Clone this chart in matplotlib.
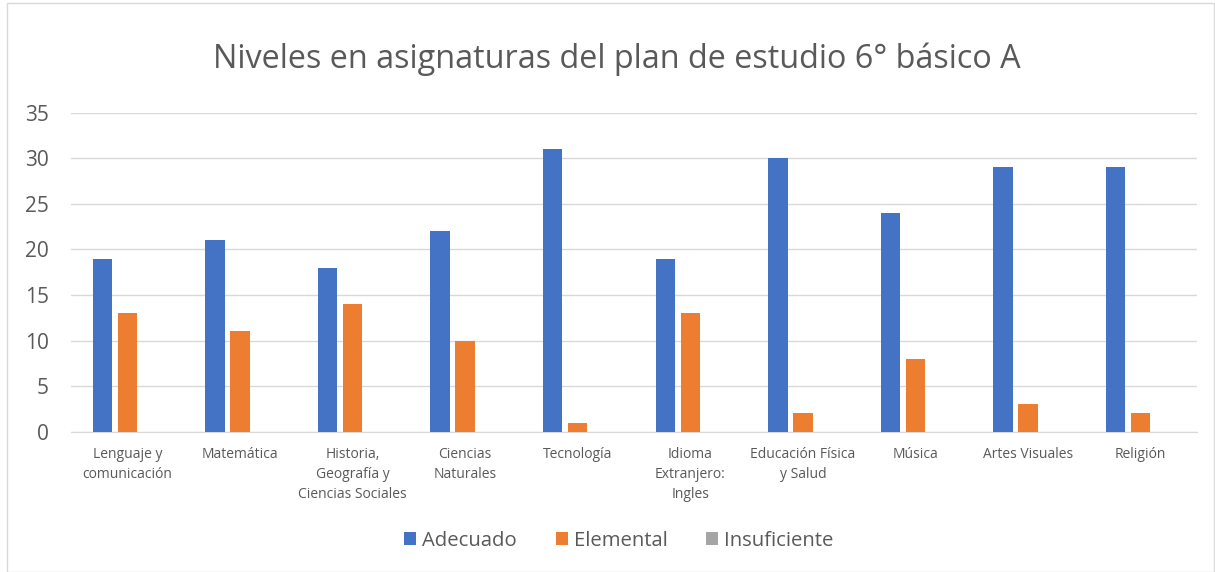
import matplotlib
matplotlib.use("Agg")
import matplotlib.pyplot as plt
import numpy as np
from matplotlib.patches import Rectangle

categories = ["Lenguaje y\ncomunicación", "Matemática", "Historia,\nGeografía y\nCiencias Sociales",
              "Ciencias\nNaturales", "Tecnología", "Idioma\nExtranjero:\nIngles",
              "Educación Física\ny Salud", "Música", "Artes Visuales", "Religión"]
adecuado = [19, 21, 18, 22, 31, 19, 30, 24, 29, 29]
elemental = [13, 11, 14, 10, 1, 13, 2, 8, 3, 2]
insuficiente = [0, 0, 0, 0, 0, 0, 0, 0, 0, 0]
series_names = ["Adecuado", "Elemental", "Insuficiente"]
colors = ["#4472C4", "#ED7D31", "#A5A5A5"]
y_ticks = [0, 5, 10, 15, 20, 25, 30, 35]
title = "Niveles en asignaturas del plan de estudio 6° básico A"

FONT = ["Open Sans", "DejaVu Sans"]
plt.rcParams['font.family'] = FONT
TXT = "#595959"

W, H = 1215, 572
fig = plt.figure(figsize=(W/100, H/100), dpi=100)
fig.patches.append(Rectangle((7/W, 0), (W-8)/W, 1 - 3/H, transform=fig.transFigure,
                             fill=False, edgecolor="#D9D9D9", linewidth=1))

left, right = 71, 1197
top, bottom = 112.7, 431.7
ax = fig.add_axes([left/W, 1 - bottom/H, (right-left)/W, (bottom-top)/H])

x = np.arange(len(categories))
bw = 0.173
offs = [-0.222, 0, 0.222]
for vals, name, c, o in zip([adecuado, elemental, insuficiente], series_names, colors, offs):
    ax.bar(x + o, vals, width=bw, color=c, label=name, zorder=3)

ax.set_xlim(-0.5, len(categories) - 0.5)
ax.set_ylim(0, 35)
ax.set_yticks(y_ticks)
ax.set_yticklabels([str(v) for v in y_ticks], fontsize=15, color=TXT)
ax.yaxis.grid(True, color="#D9D9D9", linewidth=1, zorder=0)
ax.set_xticks(x)
ax.set_xticklabels(categories, fontsize=10, color=TXT, linespacing=1.45)
ax.tick_params(axis='both', length=0)
ax.tick_params(axis='x', pad=11)
ax.tick_params(axis='y', pad=16)
for s in ["top", "right", "left"]:
    ax.spines[s].set_visible(False)
ax.spines["bottom"].set_color("#D9D9D9")
ax.set_axisbelow(True)

fig.text(617/W, 1 - 59/H, title, ha="center", va="center", fontsize=23.3, color=TXT)

leg = fig.legend(loc="center", bbox_to_anchor=(619/W, 1 - 541/H), ncol=3, frameon=False,
                 fontsize=14.6, handlelength=0.6, handleheight=0.6, handletextpad=0.3,
                 columnspacing=1.9)
for t in leg.get_texts():
    t.set_color(TXT)

fig.savefig("out.png", dpi=100)
